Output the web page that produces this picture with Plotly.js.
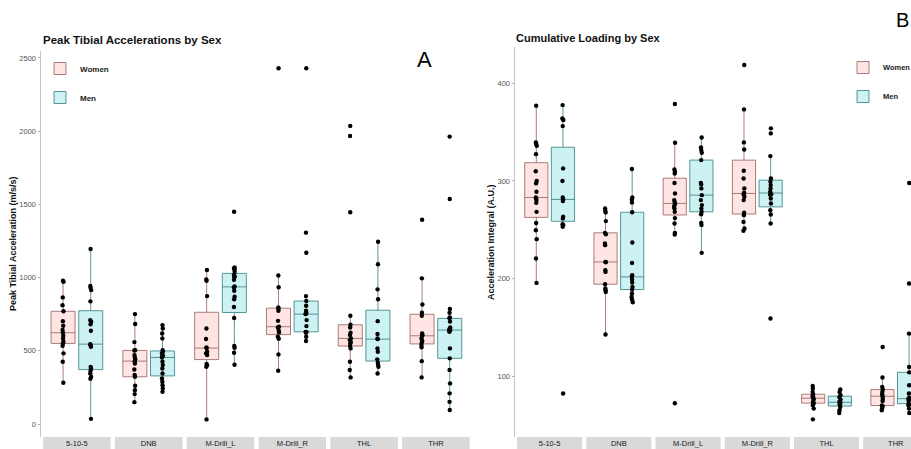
<!DOCTYPE html>
<html><head><meta charset="utf-8">
<script src="https://cdn.plot.ly/plotly-3.0.1.min.js"></script>
<style>html,body{margin:0;padding:0;background:#fff}#chart{width:911px;height:449px}</style>
</head><body><div id="chart"></div>
<script>
// ---- data ----
const categories = ['5-10-5','DNB','M-Drill_L','M-Drill_R','THL','THR'];
const sexLabels = ['Women','Men'];

// Panel A: Peak Tibial Acceleration (m/s/s)
const peakWomen = [
  [282,426,483,535,551,562,585,603,624,642,672,703,770,811,865,972,979],
  [150,205,232,262,323,335,373,414,430,442,455,471,503,505,560,683,751],
  [32,391,401,410,471,483,494,519,524,581,653,874,979,988,1052],
  [364,476,583,596,626,637,660,665,705,774,786,797,934,1015,2430],
  [319,369,426,517,533,551,560,574,585,608,624,660,678,740,1446,1967,2036],
  [319,430,524,540,555,567,585,603,608,619,740,760,817,995,1395]
];
const peakMen = [
  [36,309,323,346,364,380,391,528,540,546,637,681,699,710,838,915,931,943,1195],
  [221,244,266,289,312,346,380,403,426,455,458,467,483,494,505,585,619,653,676],
  [405,487,521,533,724,800,852,870,910,934,940,985,1002,1010,1018,1040,1057,1062,1070,1450],
  [567,596,624,628,630,669,710,751,751,760,774,808,840,874,1170,1307,2430],
  [346,391,403,419,442,494,517,580,585,615,703,852,920,1091,1245],
  [96,152,210,278,369,449,517,630,636,640,642,650,653,660,700,722,729,760,786,1537,1963]
];

// Panel B: Acceleration Integral (A.U.)
const cumWomen = [
  [195.6,220.6,240.4,249.6,257,268.4,277.6,280.4,282,283.1,288.9,297.5,300,310,327.5,336,337.8,339.5,377],
  [142.7,186.4,188.1,189.9,194.3,206.9,208.6,216.8,217.1,234.3,236,245.5,246.9,258.9,267.8,269.4,271.8],
  [72.3,245.2,246.9,256.5,262,268.4,271.8,273.5,275.3,277,278.6,280.4,287.2,298,307.7,309.4,311.8,339.1,378.8],
  [248.9,251.4,258.1,265,267.4,280.4,283.8,286.5,287.9,292.4,302.6,310.4,332.3,339.5,373.3,418.7],
  [55.9,66.9,70.3,72.5,73.7,76.1,77.5,78.8,79.5,81.6,84,87.4,90.1],
  [65.2,66.9,69.3,70,74.7,77.1,79.5,81.6,84,86.4,89,98.7,130]
];
const cumMen = [
  [82.3,253,254.8,255.8,261.6,263.3,279.4,281.1,283.1,300,312.9,356.2,362.4,364,377.7],
  [175.8,178.6,181.3,184.8,188.8,191.5,196,199.1,201.8,203.5,216.1,237,268,278,281.1,283.1,312.2],
  [226.4,254.8,257.1,266,268.4,271.8,275.3,280.4,285.5,292.4,296.5,298.1,321.4,328.9,331.6,334.4,344.6],
  [159.1,256.5,265.7,270,277,282.1,286,286.5,288.9,292.4,295.8,299.1,302.6,325.5,348.7,353.9],
  [62.4,65.2,68.5,70.5,71.3,73,73.7,76.1,78.8,80.5,84,86.4],
  [62.4,66.9,70.3,71,72,75,76,77,77.1,78,82.3,90.8,104,109.5,143.7,195,298]
];

const peakTicks = [0,500,1000,1500,2000,2500];
const cumTicks = [100,200,300,400];

// ---- styles ----
const FONT = 'Liberation Sans, Arial, Helvetica, sans-serif';
const fills = ['rgba(248,118,109,0.2)','rgba(0,191,196,0.2)'];
const lines = ['rgba(150,95,95,0.8)','rgba(50,125,128,0.8)'];

function flatten(groups){
  const x=[], y=[];
  groups.forEach((vals,i)=>vals.forEach(v=>{x.push(categories[i]); y.push(v);}));
  return {x,y};
}
function boxTrace(groups, si, xa, ya, legend, panel){
  const d = flatten(groups);
  return {
    type:'box', x:d.x, y:d.y, name:sexLabels[si], xaxis:xa, yaxis:ya,
    legend:legend, legendgroup:sexLabels[si]+legend,
    offsetgroup:sexLabels[si], alignmentgroup:panel,
    fillcolor:fills[si], line:{color:lines[si], width:1},
    boxpoints:'all', jitter:0.06, pointpos:0, whiskerwidth:0,
    quartilemethod:'inclusive',
    marker:{color:'#000', size:4.4},
    hoverinfo:'skip'
  };
}
const data = [
  boxTrace(peakWomen,0,'x','y','legend','A'),
  boxTrace(peakMen,1,'x','y','legend','A'),
  boxTrace(cumWomen,0,'x2','y2','legend2','B'),
  boxTrace(cumMen,1,'x2','y2','legend2','B')
];

const W=911, H=449;
const px = v => v/W, py = v => (H-v)/H;

const shapes = [];
['x','x2'].forEach(xr=>{
  categories.forEach((c,i)=>{
    shapes.push({type:'rect', xref:xr, yref:'paper', x0:i-0.47, x1:i+0.47,
      y0:0, y1:py(437), fillcolor:'#d9d9d9', line:{width:0}, layer:'below'});
  });
});

const yAxisBase = {
  showline:true, linecolor:'#c4c4c4', linewidth:1.5, ticks:'outside', ticklen:2,
  tickcolor:'#b0b0b0', tickwidth:1, tickfont:{size:7.5, color:'#555', family:FONT},
  showgrid:false, zeroline:false, fixedrange:true, automargin:false
};
const xAxisBase = {
  type:'category', categoryorder:'array', categoryarray:categories,
  showline:false, showgrid:false, zeroline:false, ticks:'',
  tickfont:{size:7.5, color:'#1a1a1a', family:FONT}, fixedrange:true, automargin:false
};
const legendBase = {
  bgcolor:'rgba(0,0,0,0)', font:{size:8, color:'#1a1a1a', family:FONT, weight:'bold'},
  traceorder:'grouped', tracegroupgap:10, xanchor:'left', yanchor:'top'
};

const layout = {
  width:W, height:H, margin:{l:0,r:0,t:0,b:0, autoexpand:false},
  paper_bgcolor:'#fff', plot_bgcolor:'#fff',
  font:{family:FONT, color:'#1a1a1a'},
  boxmode:'group', boxgap:0.23, boxgroupgap:0.13,
  xaxis:Object.assign({}, xAxisBase, {domain:[px(41), px(471.8)], range:[-0.5,5.5], anchor:'y'}),
  yaxis:Object.assign({}, yAxisBase, {domain:[py(437), py(50.6)], range:[-88,2550], tickvals:peakTicks, anchor:'x',
    title:{text:'Peak Tibial Acceleration (m/s/s)', font:{size:9, family:FONT, color:'#111', weight:'bold'}, standoff:1}}),
  xaxis2:Object.assign({}, xAxisBase, {domain:[px(515), 1], range:[-0.5,5.22], anchor:'y2'}),
  yaxis2:Object.assign({}, yAxisBase, {domain:[py(437), py(47.4)], range:[37.8,436.8], tickvals:cumTicks, anchor:'x2',
    title:{text:'Acceleration Integral (A.U.)', font:{size:9, family:FONT, color:'#111', weight:'bold'}, standoff:1}}),
  legend:Object.assign({}, legendBase, {x:px(40), y:py(54)}),
  legend2:Object.assign({}, legendBase, {x:px(843), y:py(53), font:{size:7.5, color:'#1a1a1a', family:FONT, weight:'bold'}}),
  shapes:shapes,
  annotations:[
    {text:'<b>Peak Tibial Accelerations by Sex</b>', xref:'paper', yref:'paper', x:px(41), y:py(40),
      xanchor:'left', yanchor:'middle', showarrow:false, font:{size:11.5, family:FONT, color:'#111'}},
    {text:'<b>Cumulative Loading by Sex</b>', xref:'paper', yref:'paper', x:px(514), y:py(38),
      xanchor:'left', yanchor:'middle', showarrow:false, font:{size:11, family:FONT, color:'#111'}},
    {text:'A', xref:'paper', yref:'paper', x:px(424), y:py(59), xanchor:'center', yanchor:'middle',
      showarrow:false, font:{size:22, family:FONT, color:'#000'}},
    {text:'B', xref:'paper', yref:'paper', x:1, y:py(20), xanchor:'right', yanchor:'middle',
      showarrow:false, font:{size:20, family:FONT, color:'#000'}}
  ]
};

Plotly.newPlot('chart', data, layout, {staticPlot:true, displayModeBar:false});
</script>
</body></html>
